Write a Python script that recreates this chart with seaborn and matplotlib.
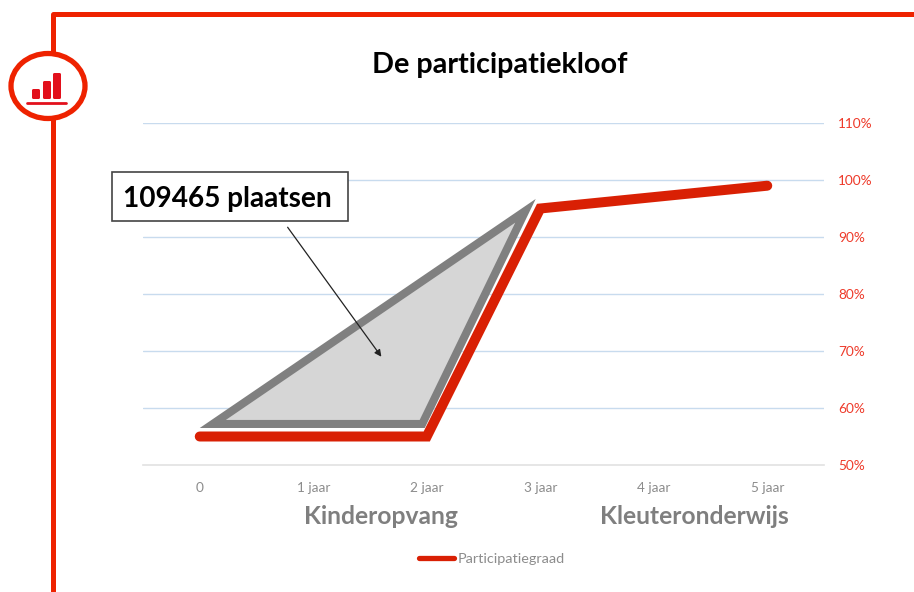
import matplotlib
matplotlib.use("Agg")
import matplotlib.pyplot as plt
import pandas as pd
import seaborn as sns
from matplotlib.patches import Ellipse, FancyBboxPatch, Polygon, Rectangle

# data
leeftijd = ["0", "1 jaar", "2 jaar", "3 jaar", "4 jaar", "5 jaar"]
participatie = [55, 55, 55, 95, 97, 99]
y_ticks = [50, 60, 70, 80, 90, 100, 110]
kloof_x = [0.115, 1.96, 2.87]
kloof_y = [57.2, 57.2, 94.6]
groepen = ["Kinderopvang", "Kleuteronderwijs"]
groepen_x = [1.6, 4.355]

RED = "#d92004"
FRAME = "#ee2200"
W, H = 914, 592

sns.set_theme(style="white")
plt.rcParams["font.family"] = ["Lato", "DejaVu Sans"]

df = pd.DataFrame({"pos": range(len(leeftijd)), "waarde": participatie})

fig = plt.figure(figsize=(W / 100, H / 100), dpi=100)
ax = fig.add_axes([143 / W, 1 - 465 / H, (824 - 143) / W, (465 - 123) / H])

# gridlines + grey triangle below the line
for t in y_ticks[1:]:
    ax.axhline(t, color="#c8dbee", lw=1.0, zorder=1)
ax.add_patch(Polygon(list(zip(kloof_x, kloof_y)), closed=True, facecolor="#d6d6d6",
                     edgecolor="#808080", lw=5.8, joinstyle="miter", zorder=2))

sns.lineplot(data=df, x="pos", y="waarde", ax=ax, color=RED, lw=7.2, zorder=3,
             label="Participatiegraad", solid_capstyle="round", solid_joinstyle="miter")

ax.set_xlim(-0.5, 5.5)
ax.set_ylim(50, 110)
ax.set_xticks(df["pos"], leeftijd)
ax.set_yticks(y_ticks, [f"{t}%" for t in y_ticks])
ax.yaxis.tick_right()
ax.tick_params(axis="y", length=0, pad=10, labelsize=9.8, labelcolor="#ee3a2a")
ax.tick_params(axis="x", length=0, pad=12, labelsize=9.8, labelcolor="#8c8c8c")
ax.set_xlabel("")
ax.set_ylabel("")
sns.despine(ax=ax, left=True, right=True, top=True)
ax.spines["bottom"].set_color("#e2e2e2")
ax.spines["bottom"].set_linewidth(1.2)

for naam, x in zip(groepen, groepen_x):
    ax.annotate(naam, xy=(x, 0), xycoords=("data", "axes fraction"), xytext=(0, -52),
                textcoords="offset pixels", ha="center", va="center",
                fontsize=17.7, fontweight="bold", color="#7f7f7f")

leg = ax.legend(loc="center", bbox_to_anchor=(492 / W, 1 - 559 / H), bbox_transform=fig.transFigure,
                frameon=False, fontsize=10.4, labelcolor="#8c8c8c", handlelength=2.4,
                handletextpad=0.25, borderpad=0)
leg.get_lines()[0].set_linewidth(3.8)

# overlay in pixel coordinates for frame, icon and callout
ov = fig.add_axes([0, 0, 1, 1], zorder=5)
ov.set_xlim(0, W)
ov.set_ylim(H, 0)
ov.axis("off")

ov.plot([53, 53, W], [H, 13.5, 13.5], color=FRAME, lw=3.6, solid_joinstyle="round", zorder=1)
ov.add_patch(Ellipse((48, 86), 74, 65, facecolor="white", edgecolor=FRAME, lw=3.8, zorder=2))
for x0, y0 in [(33, 90), (44, 82), (54, 74)]:
    ov.add_patch(FancyBboxPatch((x0, y0), 6, 98 - y0, boxstyle="round,pad=1,rounding_size=1.5",
                                facecolor="#e2101c", edgecolor="none", zorder=3))
ov.plot([27, 66], [102.5, 102.5], color="#e2101c", lw=2, zorder=3)

ov.annotate("", xy=(383, 359), xytext=(286, 225),
            arrowprops=dict(arrowstyle="-|>", color="#222222", lw=0.9, mutation_scale=10))
ov.add_patch(Rectangle((111.5, 172), 236.5, 49, facecolor="white", edgecolor="#444444", lw=1.2))
ov.text(227.5, 198.5, "109465 plaatsen", ha="center", va="center", fontsize=20.2,
        fontweight="bold", color="black")
ov.text(499.5, 65.5, "De participatiekloof", ha="center", va="center", fontsize=20.7,
        fontweight="bold", color="black")

fig.savefig("out.png", dpi=100, facecolor="white")
